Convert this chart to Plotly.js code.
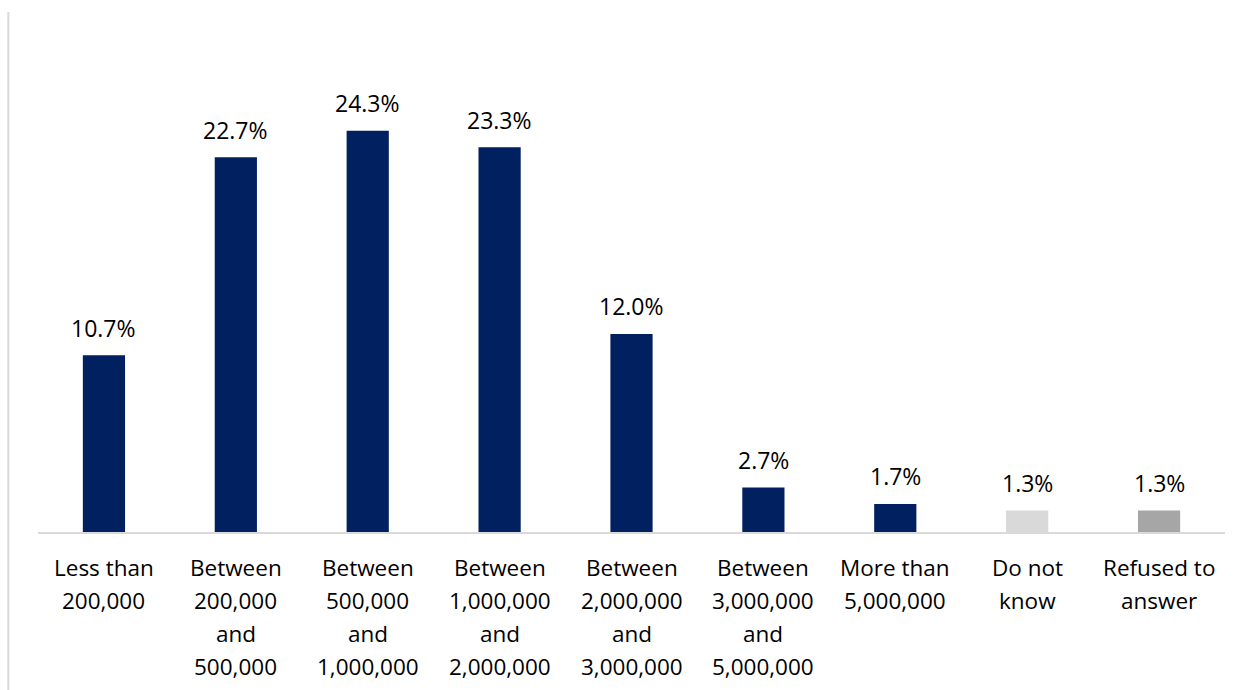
<!DOCTYPE html>
<html>
<head>
<meta charset="utf-8">
<script src="https://cdn.plot.ly/plotly-3.0.1.min.js"></script>
<style>html,body{margin:0;padding:0;background:#fff;}#chart{width:1246px;height:690px;}</style>
</head>
<body>
<div id="chart"></div>
<script>
const categories = [
  "Less than 200,000",
  "Between 200,000 and 500,000",
  "Between 500,000 and 1,000,000",
  "Between 1,000,000 and 2,000,000",
  "Between 2,000,000 and 3,000,000",
  "Between 3,000,000 and 5,000,000",
  "More than 5,000,000",
  "Do not know",
  "Refused to answer"
];
const tickLabelLines = [
  ["Less than", "200,000"],
  ["Between", "200,000", "and", "500,000"],
  ["Between", "500,000", "and", "1,000,000"],
  ["Between", "1,000,000", "and", "2,000,000"],
  ["Between", "2,000,000", "and", "3,000,000"],
  ["Between", "3,000,000", "and", "5,000,000"],
  ["More than", "5,000,000"],
  ["Do not", "know"],
  ["Refused to", "answer"]
];
const values = [10.7, 22.7, 24.3, 23.3, 12.0, 2.7, 1.7, 1.3, 1.3];
const barColors = ["#002060","#002060","#002060","#002060","#002060","#002060","#002060","#D9D9D9","#A6A6A6"];

const FONT = 'Open Sans, sans-serif';

const trace = {
  type: 'bar',
  x: categories,
  y: values,
  marker: {color: barColors},
  width: 0.32,
  hoverinfo: 'skip'
};

const annotations = [];
values.forEach((v, i) => {
  annotations.push({
    x: categories[i], y: v, xref: 'x', yref: 'y',
    text: v.toFixed(1) + '%', showarrow: false,
    yanchor: 'middle', yshift: 27.5,
    font: {family: FONT, size: 23, color: '#000'}
  });
});
tickLabelLines.forEach((lines, i) => {
  lines.forEach((line, j) => {
    annotations.push({
      x: categories[i], y: 0, xref: 'x', yref: 'paper',
      text: line, showarrow: false,
      yanchor: 'middle', yshift: -35.5 - 33 * j,
      font: {family: FONT, size: 22.5, color: '#000'}
    });
  });
});

const layout = {
  width: 1246, height: 690,
  margin: {l: 38, r: 21, t: 12, b: 158},
  paper_bgcolor: '#fff', plot_bgcolor: '#fff',
  showlegend: false,
  xaxis: {
    showline: true, linecolor: '#D9D9D9', linewidth: 1.5,
    ticks: '', showgrid: false, zeroline: false,
    showticklabels: false
  },
  yaxis: {
    range: [0, 31.5], visible: false, showgrid: false, zeroline: false
  },
  annotations: annotations,
  shapes: [{
    type: 'line', xref: 'paper', yref: 'paper',
    x0: -0.025, x1: -0.025, y0: 1, y1: -0.31,
    line: {color: '#D9D9D9', width: 2}
  }]
};

Plotly.newPlot('chart', [trace], layout, {staticPlot: true, displayModeBar: false});
</script>
</body>
</html>
